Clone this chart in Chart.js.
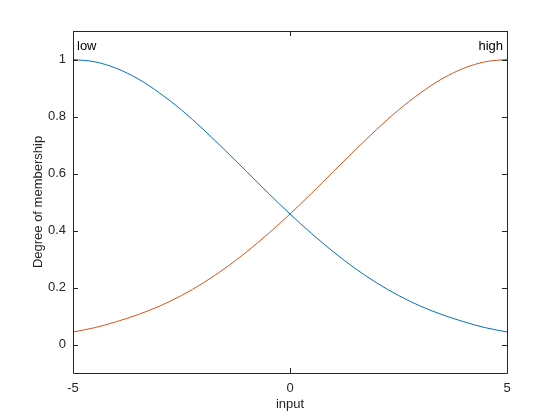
<!DOCTYPE html>
<html>
<head>
<meta charset="utf-8">
<script src="https://cdn.jsdelivr.net/npm/chart.js@4"></script>
<style>
  html, body { margin: 0; padding: 0; background: #fff; }
  #wrap { width: 560px; height: 420px; }
</style>
</head>
<body>
<div id="wrap"><canvas id="mfChart" width="560" height="420"></canvas></div>
<script>
// values
const inputX = [-5, -4.5, -4, -3.5, -3, -2.5, -2, -1.5, -1, -0.5, 0, 0.5, 1, 1.5, 2, 2.5, 3, 3.5, 4, 4.5, 5];
const lowMF  = [1, 0.992, 0.969, 0.932, 0.882, 0.823, 0.755, 0.682, 0.607, 0.531, 0.458, 0.389, 0.325, 0.267, 0.216, 0.172, 0.135, 0.105, 0.080, 0.059, 0.044];
const highMF = [0.044, 0.059, 0.080, 0.105, 0.135, 0.172, 0.216, 0.267, 0.325, 0.389, 0.458, 0.531, 0.607, 0.682, 0.755, 0.823, 0.882, 0.932, 0.969, 0.992, 1];
const xTicks = [-5, 0, 5];
const yTicks = [0, 0.2, 0.4, 0.6, 0.8, 1];
const mfNames = ['low', 'high'];
const mfPeaks = [-5, 5];
const xTitle = 'input';
const yTitle = 'Degree of membership';

const axisColor = '#262626';
const fontFamily = '"Liberation Sans", Arial, Helvetica, sans-serif';

function toPoints(ys) {
    return inputX.map(function (x, i) { return { x: x, y: ys[i] }; });
}

// box, inward ticks, axis titles and mf names, like a matlab axes
const boxPlugin = {
    id: 'boxPlugin',
    afterDatasetsDraw: function (chart) {
        const ctx = chart.ctx;
        const a = chart.chartArea;
        const xs = chart.scales.x;
        const ys = chart.scales.y;
        ctx.save();
        ctx.strokeStyle = axisColor;
        ctx.lineWidth = 1;
        ctx.beginPath();
        ctx.rect(Math.round(a.left) + 0.5, Math.round(a.top) + 0.5,
                 Math.round(a.right - a.left), Math.round(a.bottom - a.top));
        ctx.stroke();

        ctx.beginPath();
        yTicks.forEach(function (v) {
            const py = Math.round(ys.getPixelForValue(v)) + 0.5;
            ctx.moveTo(a.left, py); ctx.lineTo(a.left + 5, py);
            ctx.moveTo(a.right, py); ctx.lineTo(a.right - 5, py);
        });
        xTicks.forEach(function (v) {
            const px = Math.round(xs.getPixelForValue(v)) + 0.5;
            ctx.moveTo(px, a.bottom); ctx.lineTo(px, a.bottom - 5);
            ctx.moveTo(px, a.top); ctx.lineTo(px, a.top + 5);
        });
        ctx.stroke();

        // axis titles
        ctx.fillStyle = axisColor;
        ctx.font = '13px ' + fontFamily;
        ctx.textAlign = 'center';
        ctx.textBaseline = 'middle';
        ctx.fillText(xTitle, (a.left + a.right) / 2, 404);
        ctx.save();
        ctx.translate(38, (a.top + a.bottom) / 2);
        ctx.rotate(-Math.PI / 2);
        ctx.fillText(yTitle, 0, 0);
        ctx.restore();

        // mf names at the peaks
        ctx.fillStyle = '#000';
        ctx.textBaseline = 'alphabetic';
        const peakY = ys.getPixelForValue(1) - 10;
        ctx.textAlign = 'left';
        ctx.fillText(mfNames[0], xs.getPixelForValue(mfPeaks[0]) + 4, peakY);
        ctx.textAlign = 'right';
        ctx.fillText(mfNames[1], xs.getPixelForValue(mfPeaks[1]) - 4, peakY);
        ctx.restore();
    }
};

new Chart(document.getElementById('mfChart').getContext('2d'), {
    type: 'line',
    data: {
        datasets: [{
            label: mfNames[0],
            data: toPoints(lowMF),
            borderColor: 'rgb(0, 114, 189)',
            borderWidth: 1,
            pointRadius: 0,
            cubicInterpolationMode: 'monotone',
            fill: false
        }, {
            label: mfNames[1],
            data: toPoints(highMF),
            borderColor: 'rgb(217, 83, 25)',
            borderWidth: 1,
            pointRadius: 0,
            cubicInterpolationMode: 'monotone',
            fill: false
        }]
    },
    options: {
        responsive: false,
        animation: false,
        devicePixelRatio: 1,
        layout: { padding: { top: 31, right: 53, left: 0, bottom: 0 } },
        plugins: {
            legend: { display: false },
            tooltip: { enabled: false }
        },
        scales: {
            x: {
                type: 'linear',
                min: -5,
                max: 5,
                grid: { display: false, drawTicks: false },
                border: { display: false },
                afterBuildTicks: function (scale) {
                    scale.ticks = xTicks.map(function (v) { return { value: v }; });
                },
                afterFit: function (scale) { scale.height = 47; },
                ticks: {
                    color: axisColor,
                    padding: 8,
                    maxRotation: 0,
                    font: { size: 13, family: fontFamily }
                }
            },
            y: {
                type: 'linear',
                min: -0.1,
                max: 1.1,
                grid: { display: false, drawTicks: false },
                border: { display: false },
                afterBuildTicks: function (scale) {
                    scale.ticks = yTicks.map(function (v) { return { value: v }; });
                },
                afterFit: function (scale) { scale.width = 73; },
                ticks: {
                    color: axisColor,
                    padding: 7,
                    font: { size: 13, family: fontFamily },
                    callback: function (v) { return String(Math.round(v * 10) / 10); }
                }
            }
        }
    },
    plugins: [boxPlugin]
});
</script>
</body>
</html>
